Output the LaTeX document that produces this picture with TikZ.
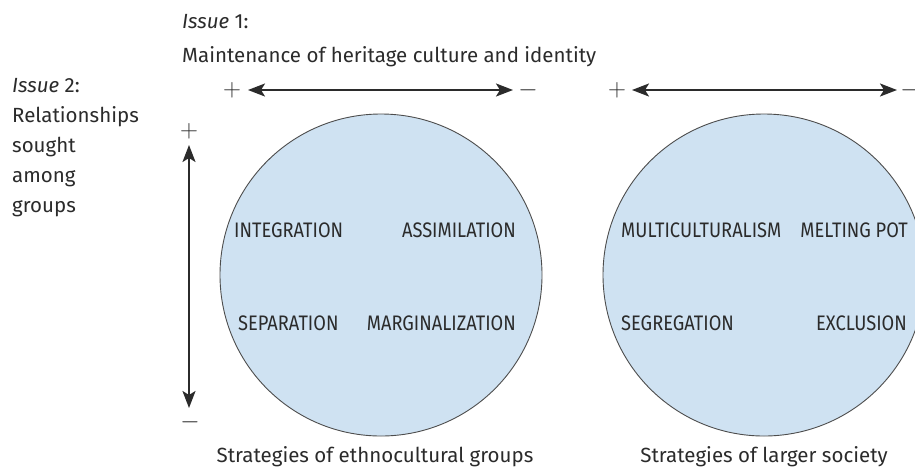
\documentclass[tikz,border=0pt]{standalone}
\usepackage{fontspec}
\setmainfont{Fira Sans}
\newfontfamily\capsfont[FakeStretch=0.87]{Fira Sans}
\usetikzlibrary{arrows.meta}
\definecolor{txt}{HTML}{2B2B2B}
\definecolor{circfill}{HTML}{CFE2F2}
\definecolor{circline}{HTML}{4D4D4D}
\tikzset{
  body/.style={font=\fontsize{20.5}{24}\selectfont, text=txt, inner sep=0pt},
  caplab/.style={font=\capsfont\fontsize{21}{24}\selectfont, text=txt, inner sep=0pt},
  sign/.style={font=\fontsize{23}{26}\selectfont, text=txt, inner sep=0pt},
  circ/.style={circle, draw=circline, fill=circfill, line width=0.9pt, minimum size=322pt, inner sep=0pt},
  axis/.style={line width=2pt, draw=txt, {Stealth[length=17pt,width=13pt,inset=4pt]}-{Stealth[length=17pt,width=13pt,inset=4pt]}}
}
\begin{document}
\begin{tikzpicture}[x=1pt,y=-1pt]
\useasboundingbox (0,0) rectangle (915,467);
\fill[white] (0,0) rectangle (915,467);
% circles
\node[circ] (c1) at (381,275) {};
\node[circ] (c2) at (764,275) {};
% heading texts
\node[body, anchor=base west] (i1) at (182,28) {\textit{Issue} 1:};
\node[body, anchor=base west] (m1) at (182,62) {Maintenance of heritage culture and identity};
\node[body, anchor=base west] (i2) at (12,92) {\textit{Issue} 2:};
\node[body, anchor=base west] (r1) at (12,122) {Relationships};
\node[body, anchor=base west] (r2) at (12,152) {sought};
\node[body, anchor=base west] (r3) at (12,182) {among};
\node[body, anchor=base west] (r4) at (12,212) {groups};
% axes
\coordinate (h1l) at (248,90); \coordinate (h1r) at (513,90);
\coordinate (h2l) at (632,90); \coordinate (h2r) at (897,90);
\coordinate (vt) at (189,145); \coordinate (vb) at (189,408);
\draw[axis] (h1l) -- (h1r);
\draw[axis] (h2l) -- (h2r);
\draw[axis] (vt) -- (vb);
\node[sign] (p1) at (232,90) {$+$};
\node[sign] (n1) at (528,90) {$-$};
\node[sign] (p2) at (617,90) {$+$};
\node[sign] (n2) at (910,90) {$-$};
\node[sign] (p3) at (189,131) {$+$};
\node[sign] (n3) at (190,422) {$-$};
% labels in circle 1
\node[caplab, anchor=west] (integ) at (234,230) {INTEGRATION};
\node[caplab, anchor=east] (assim) at (516,230) {ASSIMILATION};
\node[caplab, anchor=west] (sep) at (238,323) {SEPARATION};
\node[caplab, anchor=east] (marg) at (516,323) {MARGINALIZATION};
% labels in circle 2
\node[caplab, anchor=west] (multi) at (621,230) {MULTICULTURALISM};
\node[caplab, anchor=east] (melt) at (908,230) {MELTING POT};
\node[caplab, anchor=west] (segr) at (621,323) {SEGREGATION};
\node[caplab, anchor=east] (excl) at (907,323) {EXCLUSION};
% captions
\node[body, anchor=base] (cap1) at (375,462) {Strategies of ethnocultural groups};
\node[body, anchor=base] (cap2) at (764,462) {Strategies of larger society};
\end{tikzpicture}
\end{document}
